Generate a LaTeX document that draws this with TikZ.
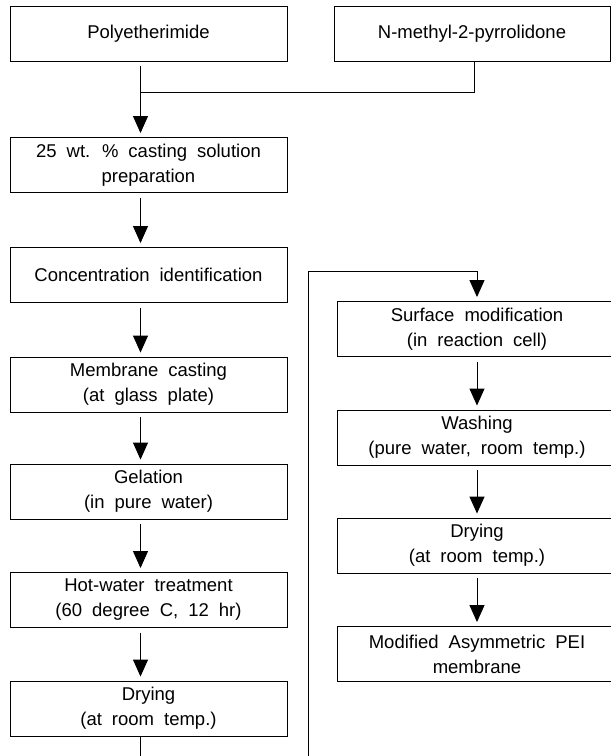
\documentclass[tikz,border=0pt]{standalone}
\usepackage{fontspec}
\setmainfont{Liberation Sans}
\usetikzlibrary{arrows.meta}
\newcommand\stagefont{\fontsize{18.5}{25}\selectfont\spaceskip=10pt plus 1pt minus 1pt\relax}

\begin{document}
\begin{tikzpicture}[x=1pt,y=-1pt]
        \tikzset{stage/.style={draw,line width=0.9pt,minimum width=277pt,minimum height=55pt,
                inner sep=0pt,align=center,font=\stagefont},
            flow/.style={draw,line width=1pt,-{Triangle[length=17pt,width=15pt]},
                shorten <=5pt,shorten >=4pt},
            link/.style={draw,line width=1pt}}
        \useasboundingbox (0,0) rectangle (611,756);
        \clip (0,0) rectangle (611,756);
        % raw materials
        \node[stage] (pei) at (148.5,33.5) {Polyetherimide};
        \node[stage,minimum width=276pt] (nmp) at (472,33.5) {N-methyl-2-pyrrolidone};
        % left column
        \node[stage] (dope) at (148.5,165) {25 wt. \% casting solution\\preparation};
        \node[stage] (conc) at (148.5,275) {Concentration identification};
        \node[stage] (cast) at (148.5,384.5) {Membrane casting\\(at glass plate)};
        \node[stage] (gel) at (148.5,491.5) {Gelation\\(in pure water)};
        \node[stage] (hot) at (148.5,600) {Hot-water treatment\\(60 degree C, 12 hr)};
        \node[stage] (dry) at (148.5,708.5) {Drying\\(at room temp.)};
        % right column
        \node[stage,minimum width=280pt] (surf) at (477,329) {Surface modification\\(in reaction cell)};
        \node[stage,minimum width=280pt] (wash) at (477,437.5) {Washing\\(pure water, room temp.)};
        \node[stage,minimum width=280pt] (redry) at (477,545.5) {Drying\\(at room temp.)};
        \node[stage,minimum width=280pt] (final) at (477,654) {Modified Asymmetric PEI\\membrane};
        \coordinate (join) at (140.5,92.5);
        \coordinate (low) at (140.5,790);
        \coordinate (turn) at (308,271);
        % connectors
        \draw[link] (nmp.south -| 474,0) |- (join);
        \draw[flow] ([xshift=-8pt]pei.south) -- ([xshift=-8pt]dope.north);
        \draw[flow] ([xshift=-8pt]dope.south) -- ([xshift=-8pt]conc.north);
        \draw[flow] ([xshift=-8pt]conc.south) -- ([xshift=-8pt]cast.north);
        \draw[flow] ([xshift=-8pt]cast.south) -- ([xshift=-8pt]gel.north);
        \draw[flow] ([xshift=-8pt]gel.south) -- ([xshift=-8pt]hot.north);
        \draw[flow] ([xshift=-8pt]hot.south) -- ([xshift=-8pt]dry.north);
        \draw[flow,shorten <=0pt] ([xshift=-8pt]dry.south) -- (low) -| (turn) -| (surf.north);
        \draw[flow] (surf.south) -- (wash.north);
        \draw[flow] (wash.south) -- (redry.north);
        \draw[flow] (redry.south) -- (final.north);
\end{tikzpicture}
\end{document}
